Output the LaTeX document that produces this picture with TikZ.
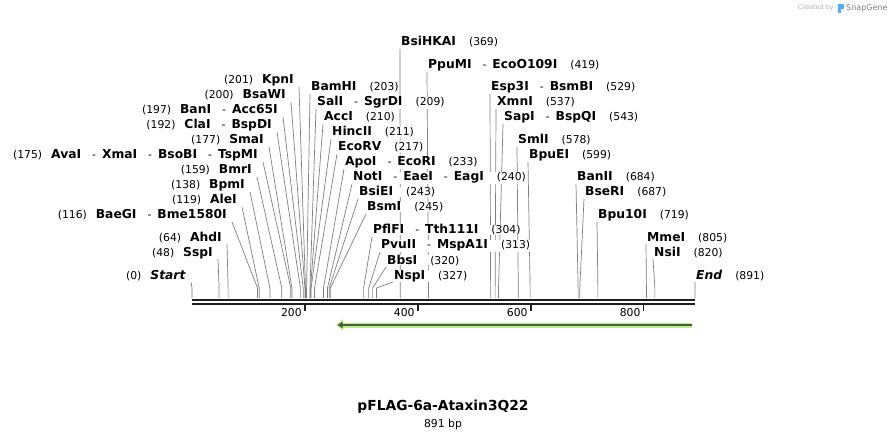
\documentclass[tikz,border=0pt]{standalone}
\usepackage{fontspec}
\setmainfont{DejaVu Sans}
\usetikzlibrary{calc,arrows.meta}
\pgfdeclarelayer{back}
\pgfsetlayers{back,main}
\definecolor{featgreen}{HTML}{B6F282}
\definecolor{featdark}{HTML}{4A5A3E}
\definecolor{wmgray}{HTML}{B4B4B4}
\newcommand{\numf}{\fontsize{10.8}{13}\selectfont}
\newcommand{\nm}[1]{{\fontsize{12.3}{14}\selectfont\bfseries #1}}
\newcommand{\sep}{{\mdseries\numf\hspace{11pt}-\hspace{6pt}}}
\newcommand{\bpx}[1]{192+#1*0.5645}% position of a base on the line
\tikzset{
  enz/.style={inner sep=0pt, fill=white, font=\numf},
  cutline/.style={draw=black!50, line width=0.7pt},
  bbline/.style={draw=black!88, line width=2.8pt},
  tickmark/.style={draw=black!88, line width=1.6pt},
  featglow/.style={draw=featgreen, line width=5pt, -{Triangle[length=7pt,width=11pt]}},
  featcore/.style={draw=featdark, line width=2pt, -{Triangle[length=5pt,width=6pt]}, shorten >=1.5pt},
  wm/.style={inner sep=0pt, text=wmgray}
}

\begin{document}
\begin{tikzpicture}[x=1pt,y=-1pt]
  \begin{pgfonlayer}{back}
    \fill[white] (0,0) rectangle (888,438);
  \end{pgfonlayer}
  \useasboundingbox (0,0) rectangle (888,438);

  % sequence line
  \coordinate (bbL) at (192,300);
  \coordinate (bbR) at (695,300);
  \draw[bbline] (bbL) -- (bbR);
  \draw[bbline] ([yshift=-4pt]bbL) -- ([yshift=-4pt]bbR);
  \foreach \t in {200,400,600,800}{
    \coordinate (t\t) at ({\bpx{\t}},305);
    \draw[tickmark] (t\t) -- ++(0,6);
    \node[enz, anchor=base east] (tl\t) at ([xshift=-3pt,yshift=-11pt]t\t) {\t};
  }

  % sites left of the line
  \foreach \n/\y/\x/\bp/\txt in {
    kpn/84/294/201/KpnI,
    bsaw/99/286/200/BsaWI,
    ban/114/278/197/BanI\sep Acc65I,
    cla/129/272/192/ClaI\sep BspDI,
    sma/144/264/177/SmaI,
    ava/159/258/175/AvaI\sep XmaI\sep BsoBI\sep TspMI,
    bmr/174/252/159/BmrI,
    bpm/189/245/138/BpmI,
    ale/204/237/119/AleI,
    bae/219/227/116/BaeGI\sep Bme1580I,
    ahd/241/222/64/AhdI,
    ssp/256/213/48/SspI,
    startpt/279/186/0/\textit{Start}}{
    \node[enz, anchor=base east] (\n) at (\x,\y) {(\bp)\hspace{9pt}\nm{\txt}};
    \coordinate (\n-s) at ({\bpx{\bp}},288);
    \begin{pgfonlayer}{back}
      \draw[cutline] ([xshift=5pt,yshift=-3pt]\n.base east) -- (\n-s) -- ++(0,10);
    \end{pgfonlayer}
  }

  % sites right of the line
  \foreach \n/\y/\x/\bp/\txt in {
    bsihka/46/401/369/BsiHKAI,
    ppum/69/428/419/PpuMI\sep EcoO109I,
    bamh/91/311/203/BamHI,
    sal/106/317/209/SalI\sep SgrDI,
    acc/121/324/210/AccI,
    hinc/136/332/211/HincII,
    ecorv/151/338/217/EcoRV,
    apo/166/345/233/ApoI\sep EcoRI,
    not/181/353/240/NotI\sep EaeI\sep EagI,
    bsie/196/359/243/BsiEI,
    bsm/211/367/245/BsmI,
    pflf/234/373/304/PflFI\sep Tth111I,
    pvu/249/381/313/PvuII\sep MspA1I,
    bbs/264/387/320/BbsI,
    nsp/279/394/327/NspI,
    esp/91/491/529/Esp3I\sep BsmBI,
    xmn/106/497/537/XmnI,
    sap/121/504/543/SapI\sep BspQI,
    sml/144/518/578/SmlI,
    bpue/159/529/599/BpuEI,
    banii/181/577/684/BanII,
    bser/196/585/687/BseRI,
    bputen/219/598/719/Bpu10I,
    mme/241/647/805/MmeI,
    nsi/256/654/820/NsiI,
    endpt/279/696/891/\textit{End}}{
    \node[enz, anchor=base west] (\n) at (\x,\y) {\nm{\txt}\hspace{13pt}(\bp)};
    \coordinate (\n-s) at ({\bpx{\bp}},288);
    \begin{pgfonlayer}{back}
      \draw[cutline] ([xshift=-1pt,yshift=-3pt]\n.base west) -- (\n-s) -- ++(0,10);
    \end{pgfonlayer}
  }

  % feature
  \coordinate (featR) at (692,325);
  \coordinate (featL) at (336,325);
  \draw[featglow] (featR) -- (featL);
  \draw[featcore] (featR) -- (featL);

  \node[inner sep=0pt, font=\fontsize{13.8}{16}\selectfont\bfseries] (title) at (443,407) {pFLAG-6a-Ataxin3Q22};
  \node[inner sep=0pt, font=\numf, anchor=north] (bp) at ([yshift=-5pt]title.south) {891 bp};

  % watermark
  \node[wm, anchor=east, font=\fontsize{6.5}{8}\selectfont] (made) at (834,8) {Created by};
  \fill[blue!45!cyan!70] (838,4) rectangle (841,13);
  \fill[blue!45!cyan!70] (841,4) rectangle (844,9);
  \node[wm, anchor=west, font=\fontsize{8}{9}\selectfont, text=black!50] (snap) at (846,8) {SnapGene};
\end{tikzpicture}
\end{document}
